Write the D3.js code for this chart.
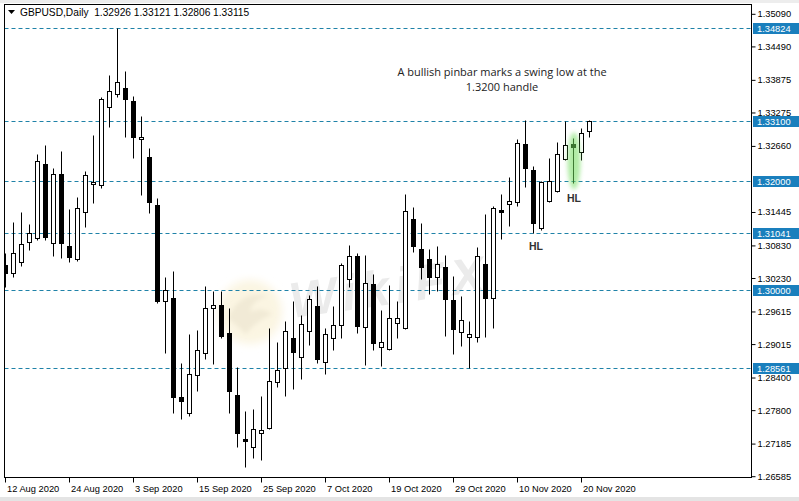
<!DOCTYPE html>
<html><head><meta charset="utf-8">
<script src="https://cdn.jsdelivr.net/npm/d3@7"></script>
<style>html,body{margin:0;padding:0;background:#fff;overflow:hidden;} svg{display:block;}</style>
</head><body>
<svg id="c" width="799" height="501"></svg>
<script>
// ---------- DATA ----------
const dates = [
"2020-08-12","2020-08-13","2020-08-14","2020-08-17","2020-08-18","2020-08-19","2020-08-20","2020-08-21","2020-08-24","2020-08-25",
"2020-08-26","2020-08-27","2020-08-28","2020-08-31","2020-09-01","2020-09-02","2020-09-03","2020-09-04","2020-09-07","2020-09-08",
"2020-09-09","2020-09-10","2020-09-11","2020-09-14","2020-09-15","2020-09-16","2020-09-17","2020-09-18","2020-09-21","2020-09-22",
"2020-09-23","2020-09-24","2020-09-25","2020-09-28","2020-09-29","2020-09-30","2020-10-01","2020-10-02","2020-10-05","2020-10-06",
"2020-10-07","2020-10-08","2020-10-09","2020-10-12","2020-10-13","2020-10-14","2020-10-15","2020-10-16","2020-10-19","2020-10-20",
"2020-10-21","2020-10-22","2020-10-23","2020-10-26","2020-10-27","2020-10-28","2020-10-29","2020-10-30","2020-11-02","2020-11-03",
"2020-11-04","2020-11-05","2020-11-06","2020-11-09","2020-11-10","2020-11-11","2020-11-12","2020-11-13","2020-11-16","2020-11-17",
"2020-11-18","2020-11-19","2020-11-20","2020-11-23"];

const open = [1.30453,1.30306,1.30508,1.30876,1.30950,1.32311,1.30858,1.32127,1.30803,1.30563,
1.31428,1.31943,1.31925,1.33360,1.33599,1.33710,1.33471,1.32771,1.32440,1.31557,
1.29791,1.29846,1.28024,1.27730,1.28429,1.28834,1.29662,1.29717,1.29202,1.28061,
1.27251,1.27104,1.27362,1.27454,1.28300,1.28558,1.29110,1.28760,1.29239,1.29699,
1.28668,1.29110,1.29349,1.30195,1.30619,1.29312,1.30103,1.28944,1.28907,1.29386,
1.29294,1.31299,1.30747,1.30563,1.30232,1.30416,1.29809,1.29220,1.29128,1.29128,
1.30471,1.29846,1.31465,1.31575,1.31612,1.32679,1.32201,1.31134,1.31631,1.31815,
1.32403,1.32624,1.32532,1.32926];

const high = [1.30674,1.31244,1.31428,1.31207,1.32495,1.32661,1.32238,1.32551,1.31483,1.31704,
1.32183,1.32845,1.33544,1.33949,1.34824,1.34023,1.33563,1.33195,1.32606,1.31686,
1.30232,1.30343,1.28650,1.29183,1.29257,1.30067,1.29975,1.29975,1.29662,1.28576,
1.27767,1.27803,1.28043,1.29294,1.29036,1.29423,1.29791,1.29533,1.29901,1.30067,
1.29294,1.29699,1.30490,1.30821,1.30674,1.30637,1.30287,1.29625,1.30085,1.29791,
1.31759,1.31520,1.31226,1.30747,1.30803,1.30637,1.30251,1.29883,1.29423,1.30784,
1.31391,1.31539,1.31759,1.32072,1.32771,1.33121,1.32275,1.31999,1.32422,1.32716,
1.33110,1.32790,1.32974,1.33121];

const low = [1.30048,1.30232,1.30435,1.30729,1.30913,1.30913,1.30619,1.30582,1.30508,1.30527,
1.31152,1.31594,1.31870,1.32992,1.33544,1.32808,1.32422,1.31741,1.31410,1.29754,
1.28834,1.27730,1.27619,1.27675,1.28135,1.28723,1.28631,1.29110,1.27730,1.27104,
1.26736,1.26902,1.26865,1.27435,1.28208,1.28043,1.28171,1.28355,1.28981,1.28650,
1.28447,1.28889,1.29110,1.30048,1.29202,1.28613,1.28889,1.28595,1.28900,1.29110,
1.29275,1.30692,1.30195,1.29919,1.29975,1.29147,1.28815,1.28963,1.28558,1.29036,
1.29128,1.29294,1.30931,1.31171,1.31539,1.31888,1.31042,1.31097,1.31612,1.31796,
1.32385,1.31962,1.32385,1.32806];

const close = [1.30306,1.30674,1.30839,1.31042,1.32367,1.30968,1.32127,1.30858,1.30600,1.31502,
1.32109,1.31980,1.33507,1.33655,1.33820,1.33507,1.32808,1.32808,1.31612,1.29791,
1.29993,1.28024,1.27951,1.28447,1.28889,1.29662,1.29717,1.29147,1.28135,1.27362,
1.27215,1.27435,1.27417,1.28319,1.28521,1.29239,1.28852,1.29367,1.29827,1.28723,
1.29183,1.29349,1.30453,1.30619,1.29331,1.30122,1.29018,1.29036,1.29478,1.29478,
1.31447,1.30803,1.30416,1.30232,1.30471,1.29827,1.29275,1.29441,1.29183,1.30619,
1.29846,1.31502,1.31428,1.31631,1.32698,1.32238,1.31226,1.31980,1.31999,1.32495,
1.32661,1.32679,1.32882,1.33115];

const yTickValues = [1.35090,1.34490,1.33875,1.33275,1.32660,1.31445,1.30830,1.30230,1.29615,1.29015,1.28400,1.27800,1.27185,1.26585];
const levelValues = [1.34824,1.33100,1.32000,1.31041,1.30000,1.28561];
const xTickDates = ["2020-08-12","2020-08-24","2020-09-03","2020-09-15","2020-09-25","2020-10-07","2020-10-19","2020-10-29","2020-11-10","2020-11-20"];
const symbolTitle = "GBPUSD,Daily";
const noteLines = ["A bullish pinbar marks a swing low at the","1.3200 handle"];
const swingDates = ["2020-11-19","2020-11-12"];
const swingPrices = [1.31686,1.30803];
const swingTexts = ["HL","HL"];
const pinbarDate = "2020-11-19";

// ---------- CHART ----------
const svg = d3.select("#c");
const W = 799, H = 501;
const P = {l:4.5, r:751.5, t:4.5, b:477.5};
const parse = d3.timeParse("%Y-%m-%d");
const fmt = d3.timeFormat("%-d %b %Y");
const f5 = d3.format(".5f");

const x = d3.scalePoint().domain(dates).range([5, 589]);
const y = d3.scaleLinear().domain([1.26585, 1.35090]).range([475.7, 13.3]);
const px = d => Math.round(x(d)) + 0.5;
const py = v => Math.round(y(v)) + 0.5;

const candles = dates.map((d,i)=>({d, o:open[i], h:high[i], l:low[i], c:close[i]}));

// background strips
svg.append("rect").attr("x",0).attr("y",0).attr("width",W).attr("height",H).attr("fill","#fff");
svg.append("rect").attr("x",0).attr("y",0).attr("width",W).attr("height",3).attr("fill","#ededed");
svg.append("rect").attr("x",0).attr("y",497).attr("width",W).attr("height",4).attr("fill","#e4e4e4");

svg.append("defs").html(`
  <clipPath id="plotClip"><rect x="${P.l+0.5}" y="${P.t+0.5}" width="${P.r-P.l-1}" height="${P.b-P.t-1}"/></clipPath>
  <filter id="blur" x="-50%" y="-50%" width="200%" height="200%"><feGaussianBlur stdDeviation="2"/></filter>
  <filter id="blur2" x="-50%" y="-50%" width="200%" height="200%"><feGaussianBlur stdDeviation="4"/></filter>
`);

const plot = svg.append("g").attr("clip-path","url(#plotClip)");

// watermark
const wm = plot.append("g");
wm.append("circle").attr("cx",250).attr("cy",312).attr("r",32).attr("fill","#fbf5e2").attr("filter","url(#blur2)");
wm.append("path").attr("d","M228,318 Q240,290 268,296 Q252,300 250,312 Q262,306 272,314 Q255,322 246,334 Z")
  .attr("fill","#f1ead6").attr("filter","url(#blur)");
wm.append("text").attr("x",292).attr("y",318).attr("transform","rotate(-8,292,318)")
  .attr("font-family","Liberation Sans, Arial, sans-serif").attr("font-weight","bold")
  .attr("font-style","italic").attr("font-size",50).attr("letter-spacing",6)
  .attr("fill","#ebebeb").text("WikiFX");

// level lines
plot.selectAll("line.level").data(levelValues).join("line")
  .attr("class","level")
  .attr("x1",P.l).attr("x2",P.r)
  .attr("y1",v=>py(v)).attr("y2",v=>py(v))
  .attr("stroke","#1f82a8").attr("stroke-width",1).attr("stroke-dasharray","4,3");

// candles
const cg = plot.selectAll("g.cd").data(candles).join("g").attr("class","cd");
cg.append("line")
  .attr("x1",d=>px(d.d)).attr("x2",d=>px(d.d))
  .attr("y1",d=>py(d.h)).attr("y2",d=>py(d.l))
  .attr("stroke","#000").attr("stroke-width",1);
cg.each(function(d){
  const g = d3.select(this);
  const top = py(Math.max(d.o,d.c)), bot = py(Math.min(d.o,d.c));
  const cx = px(d.d);
  if (bot - top < 1) {
    g.append("line").attr("x1",cx-2.5).attr("x2",cx+2.5).attr("y1",top).attr("y2",top)
      .attr("stroke","#000").attr("stroke-width",2);
  } else {
    const hi = d.d === pinbarDate;
    g.append("rect").attr("x",cx-2).attr("y",top).attr("width",4).attr("height",bot-top)
      .attr("fill", (d.c >= d.o && !hi) ? "#fff" : "#000").attr("stroke","#000").attr("stroke-width",1);
  }
});

// pinbar highlight
const pb = candles.find(c=>c.d===pinbarDate);
const pyH = y(pb.h), pyL = y(pb.l);
plot.append("ellipse")
  .attr("cx",x(pinbarDate)+1).attr("cy",(pyH+pyL)/2)
  .attr("rx",6.5).attr("ry",(pyL-pyH)/2+6)
  .attr("fill","#6fdc5c").attr("opacity",0.55).attr("filter","url(#blur)");

// HL labels
swingDates.forEach((d,i)=>{
  plot.append("text").attr("x",x(d)+ (i===0?1:3)).attr("y",y(swingPrices[i])+4)
    .attr("text-anchor","middle").attr("font-family","Liberation Sans, Arial, sans-serif")
    .attr("font-weight","bold").attr("font-size",10.5).attr("fill","#333").text(swingTexts[i]);
});

// annotation
const noteG = svg.append("g");
noteLines.forEach((t,i)=>{
  noteG.append("text").attr("x",502).attr("y",76+i*15).attr("text-anchor","middle")
    .attr("font-family","Open Sans, sans-serif").attr("font-size",11).attr("fill","#222").text(t);
});

// frame
svg.append("rect").attr("x",P.l).attr("y",P.t).attr("width",P.r-P.l).attr("height",P.b-P.t)
  .attr("fill","none").attr("stroke","#000").attr("stroke-width",1);

// right axis
const yAxis = d3.axisRight(y).tickValues(yTickValues).tickSize(4).tickPadding(2).tickFormat(f5);
const ya = svg.append("g").attr("transform",`translate(${P.r},0.5)`).call(yAxis);
ya.select(".domain").remove();
ya.selectAll(".tick line").attr("stroke","#000");
ya.selectAll(".tick text").attr("font-family","Liberation Sans, Arial, sans-serif").attr("font-size",9.3).attr("fill","#000");

// level labels
const lv = svg.selectAll("g.lvl").data(levelValues).join("g").attr("class","lvl");
lv.append("rect").attr("x",753).attr("y",v=>Math.round(y(v))-5).attr("width",46).attr("height",11).attr("fill","#1a7fbd");
lv.append("text").attr("x",757).attr("y",v=>Math.round(y(v))+4)
  .attr("font-family","Liberation Sans, Arial, sans-serif").attr("font-size",9.3).attr("fill","#fff")
  .text(v=>f5(v));

// bottom axis
const xa = svg.append("g").attr("transform",`translate(0,${P.b})`);
xa.selectAll("line").data(xTickDates).join("line")
  .attr("x1",d=>px(d)).attr("x2",d=>px(d)).attr("y1",0).attr("y2",5).attr("stroke","#000");
xa.selectAll("text").data(xTickDates).join("text")
  .attr("x",d=>px(d)+1.5).attr("y",14)
  .attr("font-family","Liberation Sans, Arial, sans-serif").attr("font-size",9.3).attr("fill","#000")
  .text(d=>fmt(parse(d)));

// title
svg.append("path").attr("d","M8,10 L15,10 L11.5,14 Z").attr("fill","#000");
const last = open.length-1;
svg.append("text").attr("x",20).attr("y",16).style("white-space","pre")
  .attr("font-family","Liberation Sans, Arial, sans-serif").attr("font-size",10.2).attr("fill","#000")
  .text(`${symbolTitle}  ${f5(open[last])} ${f5(high[last])} ${f5(low[last])} ${f5(close[last])}`);
</script>
</body></html>
